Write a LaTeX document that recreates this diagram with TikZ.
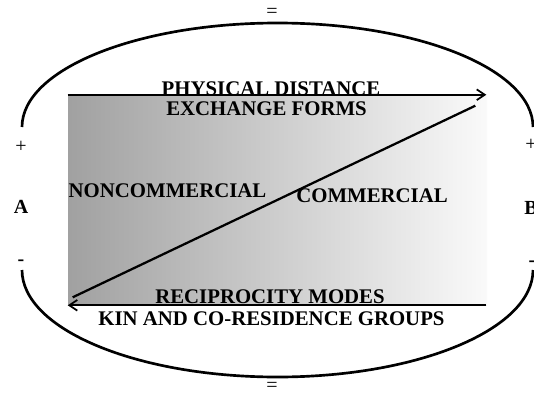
\documentclass[tikz,border=0pt]{standalone}
\usepackage{fontspec}
\setmainfont{Liberation Serif}
\usetikzlibrary{arrows.meta,calc}
\tikzset{
  field/.style={minimum width=314.25pt, minimum height=157.5pt, inner sep=0pt, left color=black!37, right color=black!2},
  flow/.style={-{Straight Barb[length=6pt,width=8pt,line width=1.3pt]}, line width=1.7pt},
  divide/.style={line width=1.7pt},
  bound/.style={line width=2pt},
  band label/.style={font=\bfseries\fontsize{15.6}{18}\selectfont, inner sep=0pt, anchor=base},
  pole label/.style={font=\fontsize{15}{18}\selectfont, inner sep=0pt},
  pole bold/.style={pole label, font=\bfseries\fontsize{15}{18}\selectfont}
}

\begin{document}
\begin{tikzpicture}[x=0.75pt,y=0.75pt]
  \useasboundingbox (0,0) rectangle (534,394);

  \node[field] (field) at (277.5,194) {};

  \draw[bound] (22,267) arc[start angle=180, end angle=0, x radius=255.5, y radius=104];
  \draw[bound] (22,124) arc[start angle=180, end angle=360, x radius=255.5, y radius=107];

  \draw[flow] (field.north west) -- ([xshift=-0.75pt]field.north east);
  \draw[flow] ([xshift=-0.75pt]field.south east) -- (field.south west);
  \draw[divide] ($(field.south west)+(5,8)$) -- ($(field.north east)+(-12,-11)$);

  \node[band label] (distance) at (271,299) {PHYSICAL DISTANCE};
  \node[band label] (forms) at (266.5,279) {EXCHANGE FORMS};
  \node[band label] (noncomm) at (167.5,197) {NONCOMMERCIAL};
  \node[band label] (comm) at (372,192) {COMMERCIAL};
  \node[band label] (modes) at (270,91) {RECIPROCITY MODES};
  \node[band label] (groups) at (271.5,69) {KIN AND CO-RESIDENCE GROUPS};

  \node[pole label] (topeq) at (272,381) {=};
  \node[pole label] (boteq) at (272,7) {=};
  \node[pole label] (plusA) at (21,247) {+};
  \node[pole bold] (poleA) at (21,187) {A};
  \node[pole bold] (minusA) at (21,131) {-};
  \node[pole label] (plusB) at (531,249) {+};
  \node[pole bold] (poleB) at (531,186) {B};
  \node[pole bold] (minusB) at (532,130) {-};
\end{tikzpicture}
\end{document}
